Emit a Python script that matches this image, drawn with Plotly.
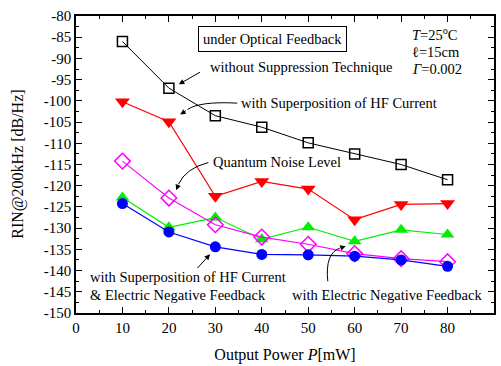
import plotly.graph_objects as go

power = [10, 20, 30, 40, 50, 60, 70, 80]
without_supp = [-86.0, -97.0, -103.5, -106.2, -109.9, -112.5, -115.0, -118.6]
hf_current = [-100.2, -104.9, -122.5, -119.0, -120.8, -128.0, -124.4, -124.2]
elec_nfb = [-122.8, -129.8, -127.5, -132.6, -129.8, -133.1, -130.4, -131.5]
quantum = [-114.2, -122.9, -129.2, -132.1, -133.8, -136.0, -137.2, -137.9]
hf_elec = [-124.2, -130.9, -134.4, -136.2, -136.3, -136.6, -137.5, -139.0]

y_ticks = list(range(-150, -79, 5))
y_labels = [str(v) for v in y_ticks]
x_ticks = list(range(0, 91, 10))
x_labels = [str(v) for v in x_ticks]

FONT = "Liberation Serif"
L, T, R, B = 76, 16, 496, 316
W, H = 501, 366

def px(xp):
    return (xp - L) / (R - L) * 90

def py(yp):
    return -80 - (yp - T) / (B - T) * 70

fig = go.Figure()

def add(y, color, symbol, size, lw=1.2, mlw=1.5):
    fig.add_trace(go.Scatter(
        x=power, y=y, mode="lines+markers",
        line=dict(color=color, width=lw),
        marker=dict(symbol=symbol, size=size, color=color,
                    line=dict(color=color, width=mlw)),
        showlegend=False))

add(elec_nfb, "#00EE00", "triangle-up", 12, mlw=0)
add(quantum, "#FF00FF", "diamond-open", 12, mlw=1.5)
add(hf_elec, "#0000FF", "circle", 11, mlw=0)
add(hf_current, "#FF0000", "triangle-down", 13, mlw=0)
add(without_supp, "#000000", "square-open", 10, lw=1.0, mlw=1.5)

ann = []
def text(xp, yp, t, xanchor="left", size=14.5, **kw):
    ann.append(dict(x=px(xp), y=py(yp), xref="x", yref="y", text=t,
                    showarrow=False, xanchor=xanchor, yanchor="middle",
                    font=dict(family=FONT, size=size, color="black"), **kw))

def arrow(hx, hy, tx, ty):
    ann.append(dict(x=px(hx), y=py(hy), xref="x", yref="y", text="",
                    showarrow=True, ax=tx - hx, ay=ty - hy, arrowhead=2,
                    arrowsize=1.1, arrowwidth=1, arrowcolor="black", standoff=0))

text(273, 39, "under Optical Feedback", xanchor="center",
     bordercolor="black", borderwidth=1, borderpad=4, bgcolor="white")
text(209, 68, "without Suppression Technique")
text(240, 104, "with Superposition of HF Current")
text(212, 163, "Quantum Noise Level")
text(88, 280, "with Superposition of HF Current")
text(88, 298, "&amp; Electric Negative Feedback")
text(486, 298, "with Electric Negative Feedback", xanchor="right")
text(412, 34, "<i>T</i>=25<sup>o</sup>C")
text(412, 52, "ℓ=15cm")
text(412, 70, "<i>Γ</i>=0.002")

# y-axis title (paper coords relative to plot area)
ann.append(dict(x=(17 - L) / (R - L), y=(B - 166) / (B - T), xref="paper", yref="paper",
                text="RIN@200kHz [dB/Hz]", textangle=-90, showarrow=False,
                xanchor="center", yanchor="middle",
                font=dict(family=FONT, size=16, color="black")))

arrow(179.3, 85, 202, 72)
arrow(210.7, 256.7, 196.7, 272)
arrow(180.7, 115.5, 188, 110.5)
arrow(176.7, 192, 179, 186)
arrow(347, 248.5, 341, 250.5)

def path(pts):
    (x0, y0), (cx, cy), (x1, y1) = pts
    return f"M {px(x0)},{py(y0)} Q {px(cx)},{py(cy)} {px(x1)},{py(y1)}"

shapes = [
    dict(type="path", xref="x", yref="y", path=path([(238, 104), (200, 102), (188, 110.5)]),
         line=dict(color="black", width=1)),
    dict(type="path", xref="x", yref="y", path=path([(209, 164), (186, 170), (179, 186)]),
         line=dict(color="black", width=1)),
    dict(type="path", xref="x", yref="y", path=path([(329, 284), (326, 256), (341, 250.5)]),
         line=dict(color="black", width=1)),
]

axis_common = dict(showline=True, linecolor="black", linewidth=1.5, mirror="ticks",
                   ticks="inside", ticklen=6, tickwidth=1, tickcolor="black",
                   showgrid=False, zeroline=False,
                   tickfont=dict(family=FONT, size=15, color="black"))

fig.update_layout(
    width=W, height=H,
    margin=dict(l=L, r=W - R, t=T, b=H - B),
    paper_bgcolor="white", plot_bgcolor="white",
    annotations=ann, shapes=shapes,
    xaxis=dict(range=[0, 90], tickvals=x_ticks, ticktext=x_labels,
               minor=dict(dtick=5, tick0=0, ticks="inside", ticklen=3, tickcolor="black"),
               title=dict(text="Output Power <i>P</i>[mW]", standoff=14,
                          font=dict(family=FONT, size=16, color="black")),
               **axis_common),
    yaxis=dict(range=[-150, -80], tickvals=y_ticks, ticktext=y_labels,
               minor=dict(dtick=2.5, tick0=-150, ticks="inside", ticklen=3, tickcolor="black"),
               **axis_common),
)

fig.write_html("out.html")
